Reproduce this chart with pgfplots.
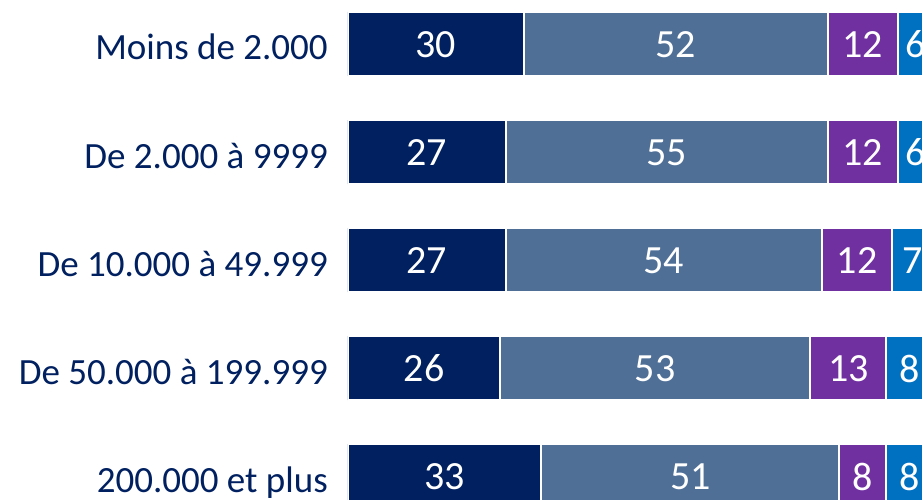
\documentclass[border=0pt]{standalone}
\usepackage{pgfplots}
\pgfplotsset{compat=1.18}
\usepackage{pgfplotstable}
\usepackage{fontspec}
\setmainfont{Carlito}
\definecolor{cnavy}{HTML}{002060}
\definecolor{csteel}{HTML}{4F6F96}
\definecolor{cpurple}{HTML}{7030A0}
\definecolor{cblue}{HTML}{0070C0}
\pgfplotstableread{
cat a b c d
0 30 52 12 6
1 27 55 12 6
2 27 54 12 7
3 26 53 13 8
4 33 51 8 8
}\data
\pgfplotsset{common/.style={
  at={(0pt,0pt)}, anchor=south west,
  scale only axis,
  width=574pt, height=500pt,
  xmin=0, xmax=98.1,
  ymin=-0.4074, ymax=4.2222,
  y dir=reverse,
},
lbl/.style={draw=none, mark=none, nodes near coords, point meta=explicit symbolic,
    nodes near coords style={anchor=center, text=white, inner sep=0pt, font=\fontsize{40}{48}\selectfont, yshift=-0.5pt}}
}
\begin{document}
\begin{tikzpicture}
\useasboundingbox (-348pt,0pt) rectangle (574pt,500pt);
\clip (-348pt,0pt) rectangle (574pt,500pt);
\begin{axis}[
  common,
  xbar stacked,
  bar width=64pt,
  axis line style={draw=none},
  major tick style={draw=none},
  xtick=\empty,
  ytick={0,1,2,3,4},
  yticklabels={Moins de 2.000, De 2.000 à 9999, De 10.000 à 49.999, De 50.000 à 199.999, 200.000 et plus},
  yticklabel style={font=\fontsize{37}{44}\selectfont, text=cnavy, inner sep=0pt, anchor=base east, xshift=-20pt, yshift=-16pt},
  every axis plot/.append style={draw=white, line width=2pt},
]
\addplot[fill=cnavy] table[x=a,y=cat]{\data};
\addplot[fill=csteel] table[x=b,y=cat]{\data};
\addplot[fill=cpurple] table[x=c,y=cat]{\data};
\addplot[fill=cblue] table[x=d,y=cat]{\data};
\end{axis}
\begin{axis}[
  common,
  hide axis,
  no markers,
]
\addplot[lbl] table[x expr=\thisrow{a}/2, y=cat, meta=a]{\data};
\addplot[lbl] table[x expr=\thisrow{a}+\thisrow{b}/2, y=cat, meta=b]{\data};
\addplot[lbl] table[x expr=\thisrow{a}+\thisrow{b}+\thisrow{c}/2, y=cat, meta=c]{\data};
\addplot[lbl] table[x expr=\thisrow{a}+\thisrow{b}+\thisrow{c}+\thisrow{d}/2, y=cat, meta=d]{\data};
\end{axis}
\end{tikzpicture}
\end{document}
